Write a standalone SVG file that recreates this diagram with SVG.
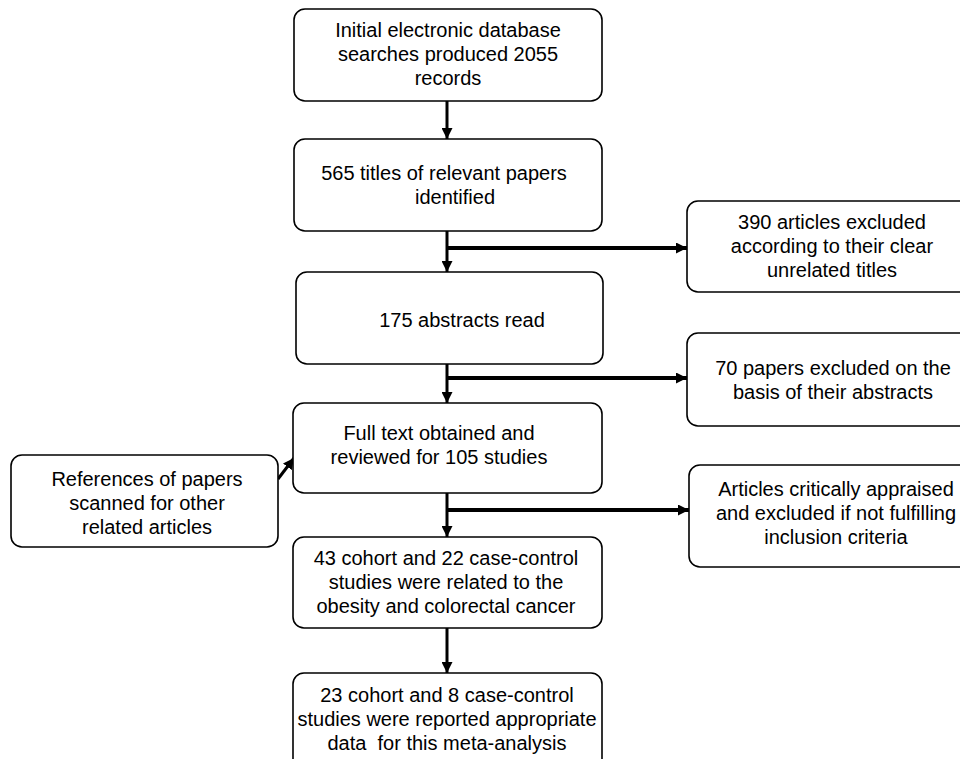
<svg xmlns="http://www.w3.org/2000/svg" width="960" height="759" viewBox="0 0 960 759">
<style>
.box{fill:#fff;stroke:#000;stroke-width:1.6}
.t{font-family:"Liberation Sans",Arial,sans-serif;font-size:20px;fill:#000;text-anchor:middle}
.v{stroke:#000;stroke-width:3;fill:none}
.h{stroke:#000;stroke-width:4;fill:none}
</style>
<defs>
<marker id="ah" viewBox="0 0 10 10" refX="10" refY="5" markerWidth="11" markerHeight="11" markerUnits="userSpaceOnUse" orient="auto">
<path d="M0,0 L10,5 L0,10 Z" fill="#000"/>
</marker>
</defs>
<rect width="960" height="759" fill="#fff"/>
<g id="connectors">
<line class="v" x1="447" y1="101" x2="447" y2="139" marker-end="url(#ah)"/>
<line class="v" x1="447" y1="231" x2="447" y2="272" marker-end="url(#ah)"/>
<line class="h" x1="447" y1="248" x2="687" y2="248" marker-end="url(#ah)"/>
<line class="v" x1="447" y1="364" x2="447" y2="403" marker-end="url(#ah)"/>
<line class="h" x1="447" y1="378" x2="687" y2="378" marker-end="url(#ah)"/>
<line class="v" x1="447" y1="493" x2="447" y2="537" marker-end="url(#ah)"/>
<line class="h" x1="447" y1="510" x2="689" y2="510" marker-end="url(#ah)"/>
<line class="v" x1="447" y1="628" x2="447" y2="673" marker-end="url(#ah)"/>
<line class="v" x1="278" y1="479" x2="294" y2="458" marker-end="url(#ah)"/>
</g>
<g id="n1">
<rect class="box" x="294" y="9" width="308" height="92" rx="11"/>
<text class="t" x="448" y="37">Initial electronic database</text>
<text class="t" x="448" y="61">searches produced 2055</text>
<text class="t" x="448" y="85">records</text>
</g>
<g id="n2">
<rect class="box" x="294" y="139" width="308" height="92" rx="11"/>
<text class="t" x="444" y="180">565 titles of relevant papers</text>
<text class="t" x="455" y="204">identified</text>
</g>
<g id="n3">
<rect class="box" x="296" y="272" width="307" height="92" rx="11"/>
<text class="t" x="462" y="327">175 abstracts read</text>
</g>
<g id="n4">
<rect class="box" x="293" y="403" width="309" height="90" rx="11"/>
<text class="t" x="439" y="440">Full text obtained and</text>
<text class="t" x="439" y="464">reviewed for 105 studies</text>
</g>
<g id="n5">
<rect class="box" x="293" y="537" width="309" height="91" rx="11"/>
<text class="t" x="446" y="565">43 cohort and 22 case-control</text>
<text class="t" x="446" y="589">studies were related to the</text>
<text class="t" x="446" y="613">obesity and colorectal cancer</text>
</g>
<g id="n6">
<rect class="box" x="293" y="673" width="309" height="100" rx="11"/>
<text class="t" x="447" y="702">23 cohort and 8 case-control</text>
<text class="t" x="447" y="726">studies were reported appropriate</text>
<text class="t" x="447" y="750" style="white-space:pre">data  for this meta-analysis</text>
</g>
<g id="r1">
<rect class="box" x="687" y="201" width="292" height="91" rx="11"/>
<text class="t" x="832" y="229">390 articles excluded</text>
<text class="t" x="832" y="253">according to their clear</text>
<text class="t" x="832" y="277">unrelated titles</text>
</g>
<g id="r2">
<rect class="box" x="687" y="333" width="292" height="93" rx="11"/>
<text class="t" x="833" y="375">70 papers excluded on the</text>
<text class="t" x="833" y="399">basis of their abstracts</text>
</g>
<g id="r3">
<rect class="box" x="689" y="465" width="294" height="102" rx="11"/>
<text class="t" x="836" y="496">Articles critically appraised</text>
<text class="t" x="836" y="520">and excluded if not fulfilling</text>
<text class="t" x="836" y="544">inclusion criteria</text>
</g>
<g id="left">
<rect class="box" x="11" y="455" width="267" height="92" rx="11"/>
<text class="t" x="147" y="486">References of papers</text>
<text class="t" x="147" y="510">scanned for other</text>
<text class="t" x="147" y="534">related articles</text>
</g>
</svg>
